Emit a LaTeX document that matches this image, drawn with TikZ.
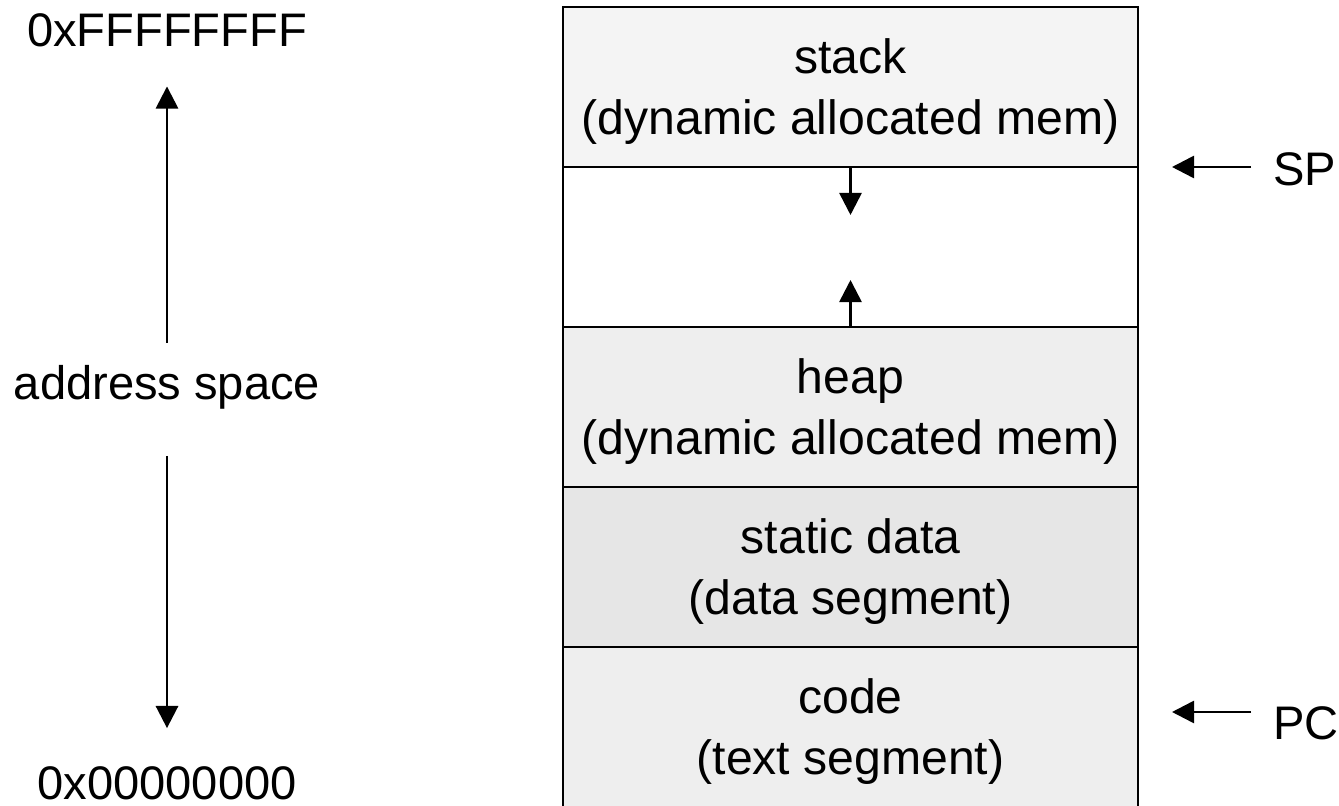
\documentclass[tikz,border=0pt]{standalone}
\usepackage{fontspec}
\setmainfont{Liberation Sans}
\usepackage{tikz}
\usetikzlibrary{arrows.meta,positioning,calc}
\definecolor{stackgray}{HTML}{F4F4F4}
\definecolor{heapgray}{HTML}{EEEEEE}
\definecolor{datagray}{HTML}{E6E6E6}
\tikzset{
    >={Triangle[length=6.3pt,width=6.3pt]},
    every picture/.style={line width=0.75pt},
    seg/.style={rectangle,draw,minimum width=5.75cm,minimum height=1.6cm,inner sep=0pt,outer sep=0pt},
    segtxt/.style={label={[align=center,inner sep=0pt,yshift=-0.045cm,font={\fontsize{13.7}{17.4}\selectfont}]center:#1}},
    lbl/.style={inner sep=0pt,outer sep=0pt}
}

\begin{document}
\begin{tikzpicture}[font={\fontsize{13.4}{17.1}\selectfont}]
    \useasboundingbox (0,0) rectangle (13.39,-8.06);

    % memory layout
    \node[seg,fill=stackgray,segtxt={stack\\(dynamic allocated mem)}] (stack) at (8.505,-0.87) {};
    \node[seg,fill=white,below=0pt of stack] (free) {};
    \node[seg,fill=heapgray,below=0pt of free,segtxt={heap\\(dynamic allocated mem)}] (heap) {};
    \node[seg,fill=datagray,below=0pt of heap,segtxt={static data\\(data segment)}] (static) {};
    \node[seg,fill=heapgray,below=0pt of static,segtxt={code\\(text segment)}] (code) {};

    % growth arrows
    \coordinate[below=0.48cm of free.north] (stackend);
    \coordinate[above=0.47cm of free.south] (heapend);
    \draw[->] (free.north) -- (stackend);
    \draw[->] (free.south) -- (heapend);

    % address range
    \node[lbl,anchor=base] (hi) at (1.67,-0.47) {0xFFFFFFFF};
    \node[lbl,anchor=base] (addr) at (1.67,-4.00) {address space};
    \node[lbl,anchor=base] (lo) at (1.67,-8.00) {0x00000000};
    \draw[->,shorten <=0.23cm,shorten >=0.39cm] (addr.north) -- (hi.south);
    \draw[->,shorten <=0.46cm,shorten >=0.39cm] (addr.south) -- (lo.north);

    % registers
    \node[lbl,anchor=base west] (sp) at (12.73,-1.86) {SP};
    \node[lbl,anchor=base west] (pc) at (12.73,-7.39) {PC};
    \coordinate (pcrow) at (0,-7.12);
    \draw[->,shorten <=0.22cm,shorten >=0.34cm] (sp.west |- stack.south east) -- (stack.south east);
    \draw[->,shorten <=0.22cm,shorten >=0.34cm] (pc.west |- pcrow) -- (code.east |- pcrow);
\end{tikzpicture}
\end{document}
